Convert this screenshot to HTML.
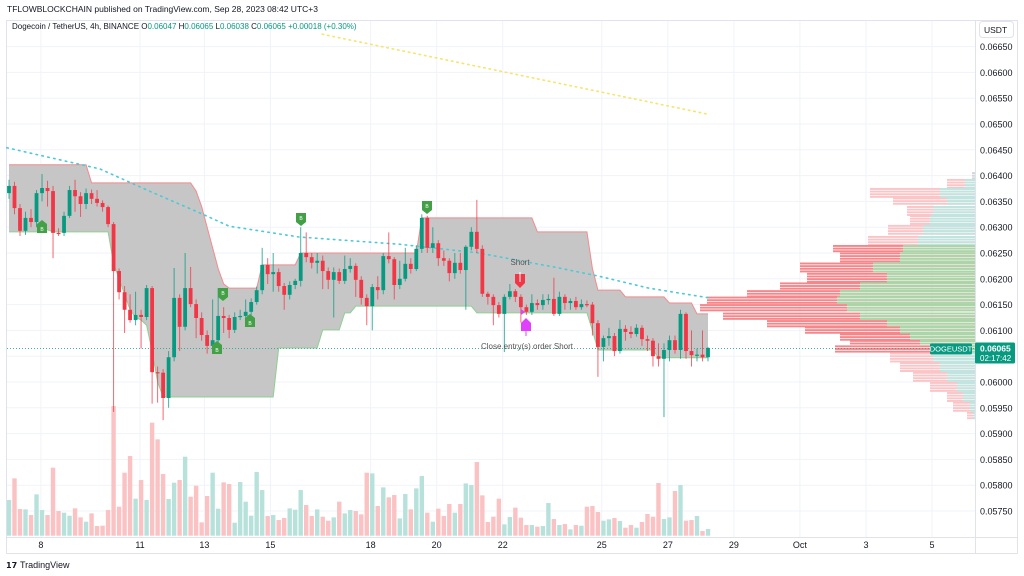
<!DOCTYPE html>
<html><head><meta charset="utf-8"><style>
html,body{margin:0;padding:0;background:#fff;width:1024px;height:576px;overflow:hidden}
svg{display:block;font-family:"Liberation Sans",sans-serif}
</style></head><body>
<svg id="c" width="1024" height="576" viewBox="0 0 1024 576"></svg>
<script>
// ---- data (prices in 1e-5 USDT) ----
const opens=[6366,6380,6337,6293,6318,6310,6366,6376,6370,6289,6289,6322,6372,6360,6345,6366,6355,6347,6339,6306,6215,6174,6140,6120,6130,6126,6182,6019,6018,5969,6048,6163,6107,6182,6151,6124,6091,6070,6081,6128,6124,6101,6126,6128,6136,6155,6178,6227,6209,6213,6186,6169,6188,6196,6250,6242,6231,6235,6215,6198,6213,6196,6219,6225,6198,6163,6147,6184,6178,6244,6238,6188,6200,6229,6219,6258,6318,6260,6269,6240,6235,6211,6231,6217,6262,6291,6258,6171,6165,6149,6132,6165,6176,6165,6145,6136,6153,6149,6159,6161,6132,6165,6153,6157,6145,6151,6150,6114,6068,6085,6089,6060,6103,6097,6093,6105,6083,6080,6050,6045,6062,6081,6062,6132,6060,6052,6053,6048];
const closes=[6380,6337,6293,6318,6310,6366,6376,6370,6289,6288,6322,6372,6360,6345,6366,6355,6347,6339,6306,6215,6174,6140,6120,6130,6126,6182,6019,6018,5969,6048,6163,6107,6182,6151,6124,6091,6070,6081,6128,6124,6101,6126,6128,6136,6155,6178,6227,6209,6213,6186,6169,6188,6196,6250,6242,6231,6235,6215,6198,6213,6196,6219,6225,6198,6163,6147,6184,6178,6244,6238,6188,6200,6229,6219,6258,6318,6260,6269,6240,6235,6211,6231,6217,6262,6291,6258,6171,6165,6149,6132,6165,6176,6165,6145,6136,6153,6149,6159,6161,6132,6165,6153,6157,6145,6151,6150,6114,6068,6085,6089,6060,6103,6097,6093,6105,6083,6080,6050,6045,6062,6081,6062,6132,6060,6052,6053,6048,6066];
const highs=[6392,6388,6345,6330,6335,6372,6403,6390,6380,6298,6330,6380,6392,6368,6375,6373,6372,6352,6342,6310,6220,6186,6170,6175,6140,6188,6186,6030,6025,6060,6221,6170,6250,6223,6160,6135,6100,6160,6182,6145,6130,6135,6140,6160,6162,6185,6260,6240,6250,6220,6192,6195,6200,6300,6290,6250,6250,6245,6222,6222,6220,6245,6240,6230,6205,6170,6190,6205,6250,6290,6242,6235,6260,6240,6265,6325,6322,6300,6275,6255,6240,6250,6250,6265,6300,6353,6265,6175,6170,6155,6170,6190,6180,6170,6150,6170,6160,6170,6170,6202,6175,6170,6162,6165,6160,6158,6155,6120,6090,6105,6095,6120,6110,6108,6112,6110,6090,6085,6075,6075,6090,6090,6140,6135,6100,6065,6100,6068];
const lows=[6355,6325,6283,6285,6300,6300,6350,6340,6240,6283,6283,6318,6330,6320,6335,6345,6340,6330,6300,5942,6160,6095,6115,6110,6065,6120,5958,5960,5926,5950,6040,6060,6100,6145,6085,6080,6055,6065,6075,6095,6085,6095,6120,6120,6130,6150,6170,6190,6175,6175,6140,6160,6180,6185,6232,6220,6210,6180,6180,6125,6190,6190,6212,6165,6150,6110,6100,6160,6170,6230,6160,6180,6195,6210,6215,6250,6250,6250,6225,6225,6195,6200,6210,6140,6255,6250,6165,6150,6110,6125,6058,6160,6155,6115,6130,6130,6140,6140,6150,6128,6128,6140,6140,6140,6140,6145,6090,6010,6040,6070,6050,6055,6080,6085,6088,6070,6060,6030,6030,5932,6040,6055,6045,6045,6030,6040,6040,6040];
const volumes=[107,172,80,79,62,124,77,62,204,74,69,60,82,55,42,67,29,30,77,389,87,189,239,111,167,107,339,289,185,110,159,167,237,117,150,40,119,189,81,160,155,39,161,102,60,191,137,59,62,47,53,82,78,137,92,59,79,57,45,55,102,67,77,74,64,189,187,89,145,115,122,52,125,79,142,179,69,42,81,59,95,69,95,157,152,221,121,41,57,111,34,56,84,54,32,32,27,29,98,50,32,35,19,32,30,87,89,71,45,49,53,44,24,32,24,41,65,57,158,50,55,134,152,45,47,59,14,20];
const cloudUpper=[6421,6421,6421,6421,6421,6421,6421,6421,6421,6421,6421,6421,6421,6421,6421,6386,6386,6386,6386,6386,6386,6386,6386,6386,6386,6386,6386,6386,6386,6386,6386,6386,6386,6386,6370,6340,6300,6260,6220,6190,6182,6182,6182,6182,6182,6182,6227,6227,6227,6227,6227,6227,6227,6250,6250,6250,6250,6250,6250,6250,6250,6250,6250,6250,6250,6250,6250,6250,6250,6250,6250,6250,6250,6250,6250,6318,6318,6318,6318,6318,6318,6318,6318,6318,6318,6318,6318,6318,6318,6318,6318,6318,6318,6318,6318,6318,6291,6291,6291,6291,6291,6291,6291,6291,6291,6291,6220,6178,6178,6178,6178,6178,6165,6165,6165,6165,6165,6165,6165,6165,6153,6153,6153,6153,6153,6132,6132,6132];
const cloudLower=[6291,6291,6291,6291,6291,6291,6295,6295,6291,6291,6291,6291,6291,6291,6291,6291,6291,6291,6291,6230,6200,6170,6140,6125,6120,6110,6060,6000,5971,5971,5971,5971,5971,5971,5971,5971,5971,5971,5971,5971,5971,5971,5971,5971,5971,5971,5971,5971,5971,6066,6066,6066,6066,6066,6066,6066,6066,6101,6101,6101,6101,6134,6134,6147,6147,6147,6147,6147,6147,6147,6147,6147,6147,6147,6147,6147,6147,6147,6147,6147,6147,6147,6147,6147,6147,6134,6134,6134,6134,6134,6134,6134,6134,6134,6134,6134,6134,6134,6134,6134,6134,6134,6134,6134,6134,6134,6100,6062,6062,6062,6062,6062,6062,6062,6062,6062,6062,6062,6047,6047,6047,6047,6047,6047,6047,6047,6047,6047];
const maIdx=[-0.4,16.5,25.5,34.6,40,52.7,70.9,85.4,99.9,107.2,116.2,127.2];
const maVal=[6454,6413,6370,6328,6302,6281,6267,6250,6221,6205,6182,6163];
const trendIdx=[56.9,127];
const trendVal=[6674,6519];
const profPrice=[6401,6386,6366,6349,6333,6314,6295,6271,6260,6242,6221,6202,6184,6172,6159,6143,6126,6114,6101,6087,6076,6066,6048,6029,6010,5990,5971,5952,5932];
const profTotal=[3,28,105,82,68,65,87,107,142,135,175,168,195,228,268,275,252,208,170,135,125,140,85,75,62,45,28,22,8];
const profUp=[2,10,35,28,42,45,52,57,72,75,102,88,115,135,138,128,115,88,75,65,55,45,42,35,28,18,12,5,2];
const priceTicks=[6650,6600,6550,6500,6450,6400,6350,6300,6250,6200,6150,6100,6050,6000,5950,5900,5850,5800,5750];
const dateLabels=["8","11","13","15","18","20","22","25","27","29","Oct","3","5"];
const dateIdx=[5.8,23.8,35.5,47.5,65.7,77.7,89.7,107.7,119.7,131.7,143.7,155.7,167.7];
const lastPrice=6065;
// ---- scales ----
const X=i=>9+i*5.504;
const Y=p=>382-(p-6000)/1.938;
const VB=535.7, V=v=>v/3;
const PX=v=>975-v;
const NS="http://www.w3.org/2000/svg";
const svg=document.getElementById('c');
function el(tag,attrs,parent){const e=document.createElementNS(NS,tag);for(const k in attrs)e.setAttribute(k,attrs[k]);(parent||svg).appendChild(e);return e;}
function txt(s,attrs,parent){const e=el('text',attrs,parent);e.textContent=s;return e;}
// frame
const frame=el('rect',{x:6.5,y:20.5,width:1011,height:533,fill:'none',stroke:'#e0e3eb'});


el('line',{x1:975.5,y1:20,x2:975.5,y2:554,stroke:'#e0e3eb'});
el('line',{x1:6,y1:537.5,x2:1018,y2:537.5,stroke:'#e0e3eb'});
// grid
const grid=el('g',{});


priceTicks.forEach(p=>{el('line',{x1:7,x2:975,y1:Y(p),y2:Y(p),stroke:'#f0f3fa'},grid);});
dateIdx.forEach(d=>{el('line',{x1:X(d),x2:X(d),y1:21,y2:537,stroke:'#f0f3fa'},grid);});
// y-axis labels
const yax=el('g',{});


priceTicks.forEach(p=>{const t=txt('0.0'+p,{x:980,y:Y(p)+3.5,'font-size':9,fill:'#131722'},yax);

});
const ub=el('rect',{x:979.5,y:21.5,width:34,height:16,rx:3,fill:'#fff',stroke:'#e0e3eb'});


txt('USDT',{x:984,y:33,'font-size':8.5,fill:'#131722'});
// x-axis labels
const xax=el('g',{});


dateLabels.forEach((s,k)=>{const t=txt(s,{x:X(dateIdx[k]),y:548,'font-size':9,fill:'#131722','text-anchor':'middle'},xax);

});
// volume
const vg=el('g',{});


volumes.forEach((v,i)=>{const up=closes[i]>=opens[i];const r=el('rect',{x:X(i)-2.2,y:VB-V(v),width:4.4,height:V(v),fill:up?'#b7e2dc':'#fbc2c3'},vg);

});
// cloud
let up='',lo='';
cloudUpper.forEach((p,i)=>{up+=(i?'L':'M')+X(i)+','+Y(p);});
for(let i=cloudLower.length-1;i>=0;i--){lo+='L'+X(i)+','+Y(cloudLower[i]);}
const cf=el('path',{d:up+lo+'Z',fill:'#c6c6c6'});


let ul='',ll='';
cloudUpper.forEach((p,i)=>{ul+=(i?'L':'M')+X(i)+','+Y(p);});
cloudLower.forEach((p,i)=>{ll+=(i?'L':'M')+X(i)+','+Y(p);});
const uline=el('path',{d:ul,fill:'none',stroke:'#f28b8e','stroke-width':1});


const lline=el('path',{d:ll,fill:'none',stroke:'#8fcf92','stroke-width':1});


// volume profile
const pg=el('g',{});


for(let k=0;k<profPrice.length;k++){
  const yc=Y(profPrice[k]);
  const yt=k?(yc+Y(profPrice[k-1]))/2:yc-3;
  const yb=k<profPrice.length-1?(yc+Y(profPrice[k+1]))/2:yc+3;
  const dark=profPrice[k]>=6060&&profPrice[k]<=6262;
  for(let y=yt;y<yb-0.8;y+=2.65){
    el('rect',{x:PX(profTotal[k]),y:y,width:profTotal[k],height:1.9,fill:dark?'#f7868a':'#fbc4c6'},pg);
    el('rect',{x:PX(profUp[k]),y:y,width:profUp[k],height:1.9,fill:dark?'#a8d8a9':'#bfe5e1'},pg);
  }
}
// MA dotted
let md='';maIdx.forEach((d,k)=>{md+=(k?'L':'M')+X(d)+','+Y(maVal[k]);});
const ma=el('path',{d:md,fill:'none',stroke:'#4dc9d6','stroke-width':1.6,'stroke-dasharray':'1.5 4.5','stroke-linecap':'round'});


let td='';trendIdx.forEach((d,k)=>{td+=(k?'L':'M')+X(d)+','+Y(trendVal[k]);});
const tl=el('path',{d:td,fill:'none',stroke:'#f5e56b','stroke-width':1.6,'stroke-dasharray':'1.5 4','stroke-linecap':'round'});


// last price line
const lp=el('line',{x1:7,x2:975,y1:Y(lastPrice),y2:Y(lastPrice),stroke:'#26a69a','stroke-width':0.8,'stroke-dasharray':'1 2'});


// candles
const cg=el('g',{});


opens.forEach((o,i)=>{const c=closes[i];const upc=c>=o;const col=upc?'#089981':'#f23645';const x=X(i);
 const g=el('g',{},cg);
 
 
 el('line',{x1:x,x2:x,y1:Y(highs[i]),y2:Y(lows[i]),stroke:col,'stroke-width':1,opacity:0.75},g);
 const t=Math.min(Y(o),Y(c)),h=Math.max(1.2,Math.abs(Y(o)-Y(c)));
 el('rect',{x:x-1.9,y:t,width:3.8,height:h,fill:col},g);});
// markers
function flag(x,y,down,name){const g=el('g',{});
 
 
 const d=down?`M${x-5},${y-14}h10v9l-5,4l-5,-4z`:`M${x-5},${y+14}h10v-9l-5,-4l-5,4z`;
 el('path',{d:d,fill:'#43a047'},g);
 txt('B',{x:x,y:down?y-7:y+12,'font-size':5,fill:'#fff','text-anchor':'middle'},g);}
flag(42,219,false,'buy-signal');flag(301,227,true,'buy-signal');flag(223,302,true,'buy-signal');
flag(250,313,false,'buy-signal');flag(217,340,false,'buy-signal');flag(427,215,true,'buy-signal');
const sg=el('g',{});


el('path',{d:'M515,274h10v9l-5,5l-5,-5z',fill:'#f23645'},sg);
el('line',{x1:520,x2:520,y1:272,y2:282,stroke:'#fff','stroke-width':1},sg);
txt('Short',{x:520,y:265,'font-size':8,fill:'#555','text-anchor':'middle'},sg);
const cs=el('g',{});


el('path',{d:'M521,331h10v-8l-5,-5l-5,5z',fill:'#e040fb'},cs);
el('line',{x1:526,x2:526,y1:322,y2:336,stroke:'#e040fb','stroke-width':1},cs);
el('path',{d:'M521,309l4,3l-4,3z',fill:'#e040fb'},cs);
txt('Close entry(s) order Short',{x:527,y:349,'font-size':8,fill:'#555','text-anchor':'middle'},cs);
// price tags
const tg=el('g',{});


el('rect',{x:930,y:Y(lastPrice)-5,width:42,height:11,rx:1.5,fill:'#089981'},tg);
txt('DOGEUSDT',{x:951,y:Y(lastPrice)+3,'font-size':7.5,fill:'#fff','text-anchor':'middle'},tg);
el('rect',{x:975,y:Y(lastPrice)-6,width:40,height:21,rx:1.5,fill:'#089981'},tg);
txt('0.0'+lastPrice,{x:980,y:Y(lastPrice)+3,'font-size':8.5,fill:'#fff','font-weight':'bold'},tg);
txt('02:17:42',{x:980,y:Y(lastPrice)+12.5,'font-size':8,fill:'#fff'},tg);
// header
const hd=txt('TFLOWBLOCKCHAIN published on TradingView.com, Sep 28, 2023 08:42 UTC+3',{x:7,y:12,'font-size':8.5,fill:'#131722'});


const lg=el('text',{x:12,y:29,'font-size':8,fill:'#131722'});


lg.innerHTML='Dogecoin / TetherUS, 4h, BINANCE  O<tspan fill="#089981">0.06047</tspan>  H<tspan fill="#089981">0.06065</tspan>  L<tspan fill="#089981">0.06038</tspan>  C<tspan fill="#089981">0.06065</tspan>  <tspan fill="#089981">+0.00018 (+0.30%)</tspan>';
const logo=el('g',{});


txt('𝟭𝟳',{x:6,y:568,'font-size':8,fill:'#131722','font-weight':'bold'},logo);
txt('TradingView',{x:20,y:568,'font-size':9,fill:'#131722'},logo);
</script>
</body></html>
